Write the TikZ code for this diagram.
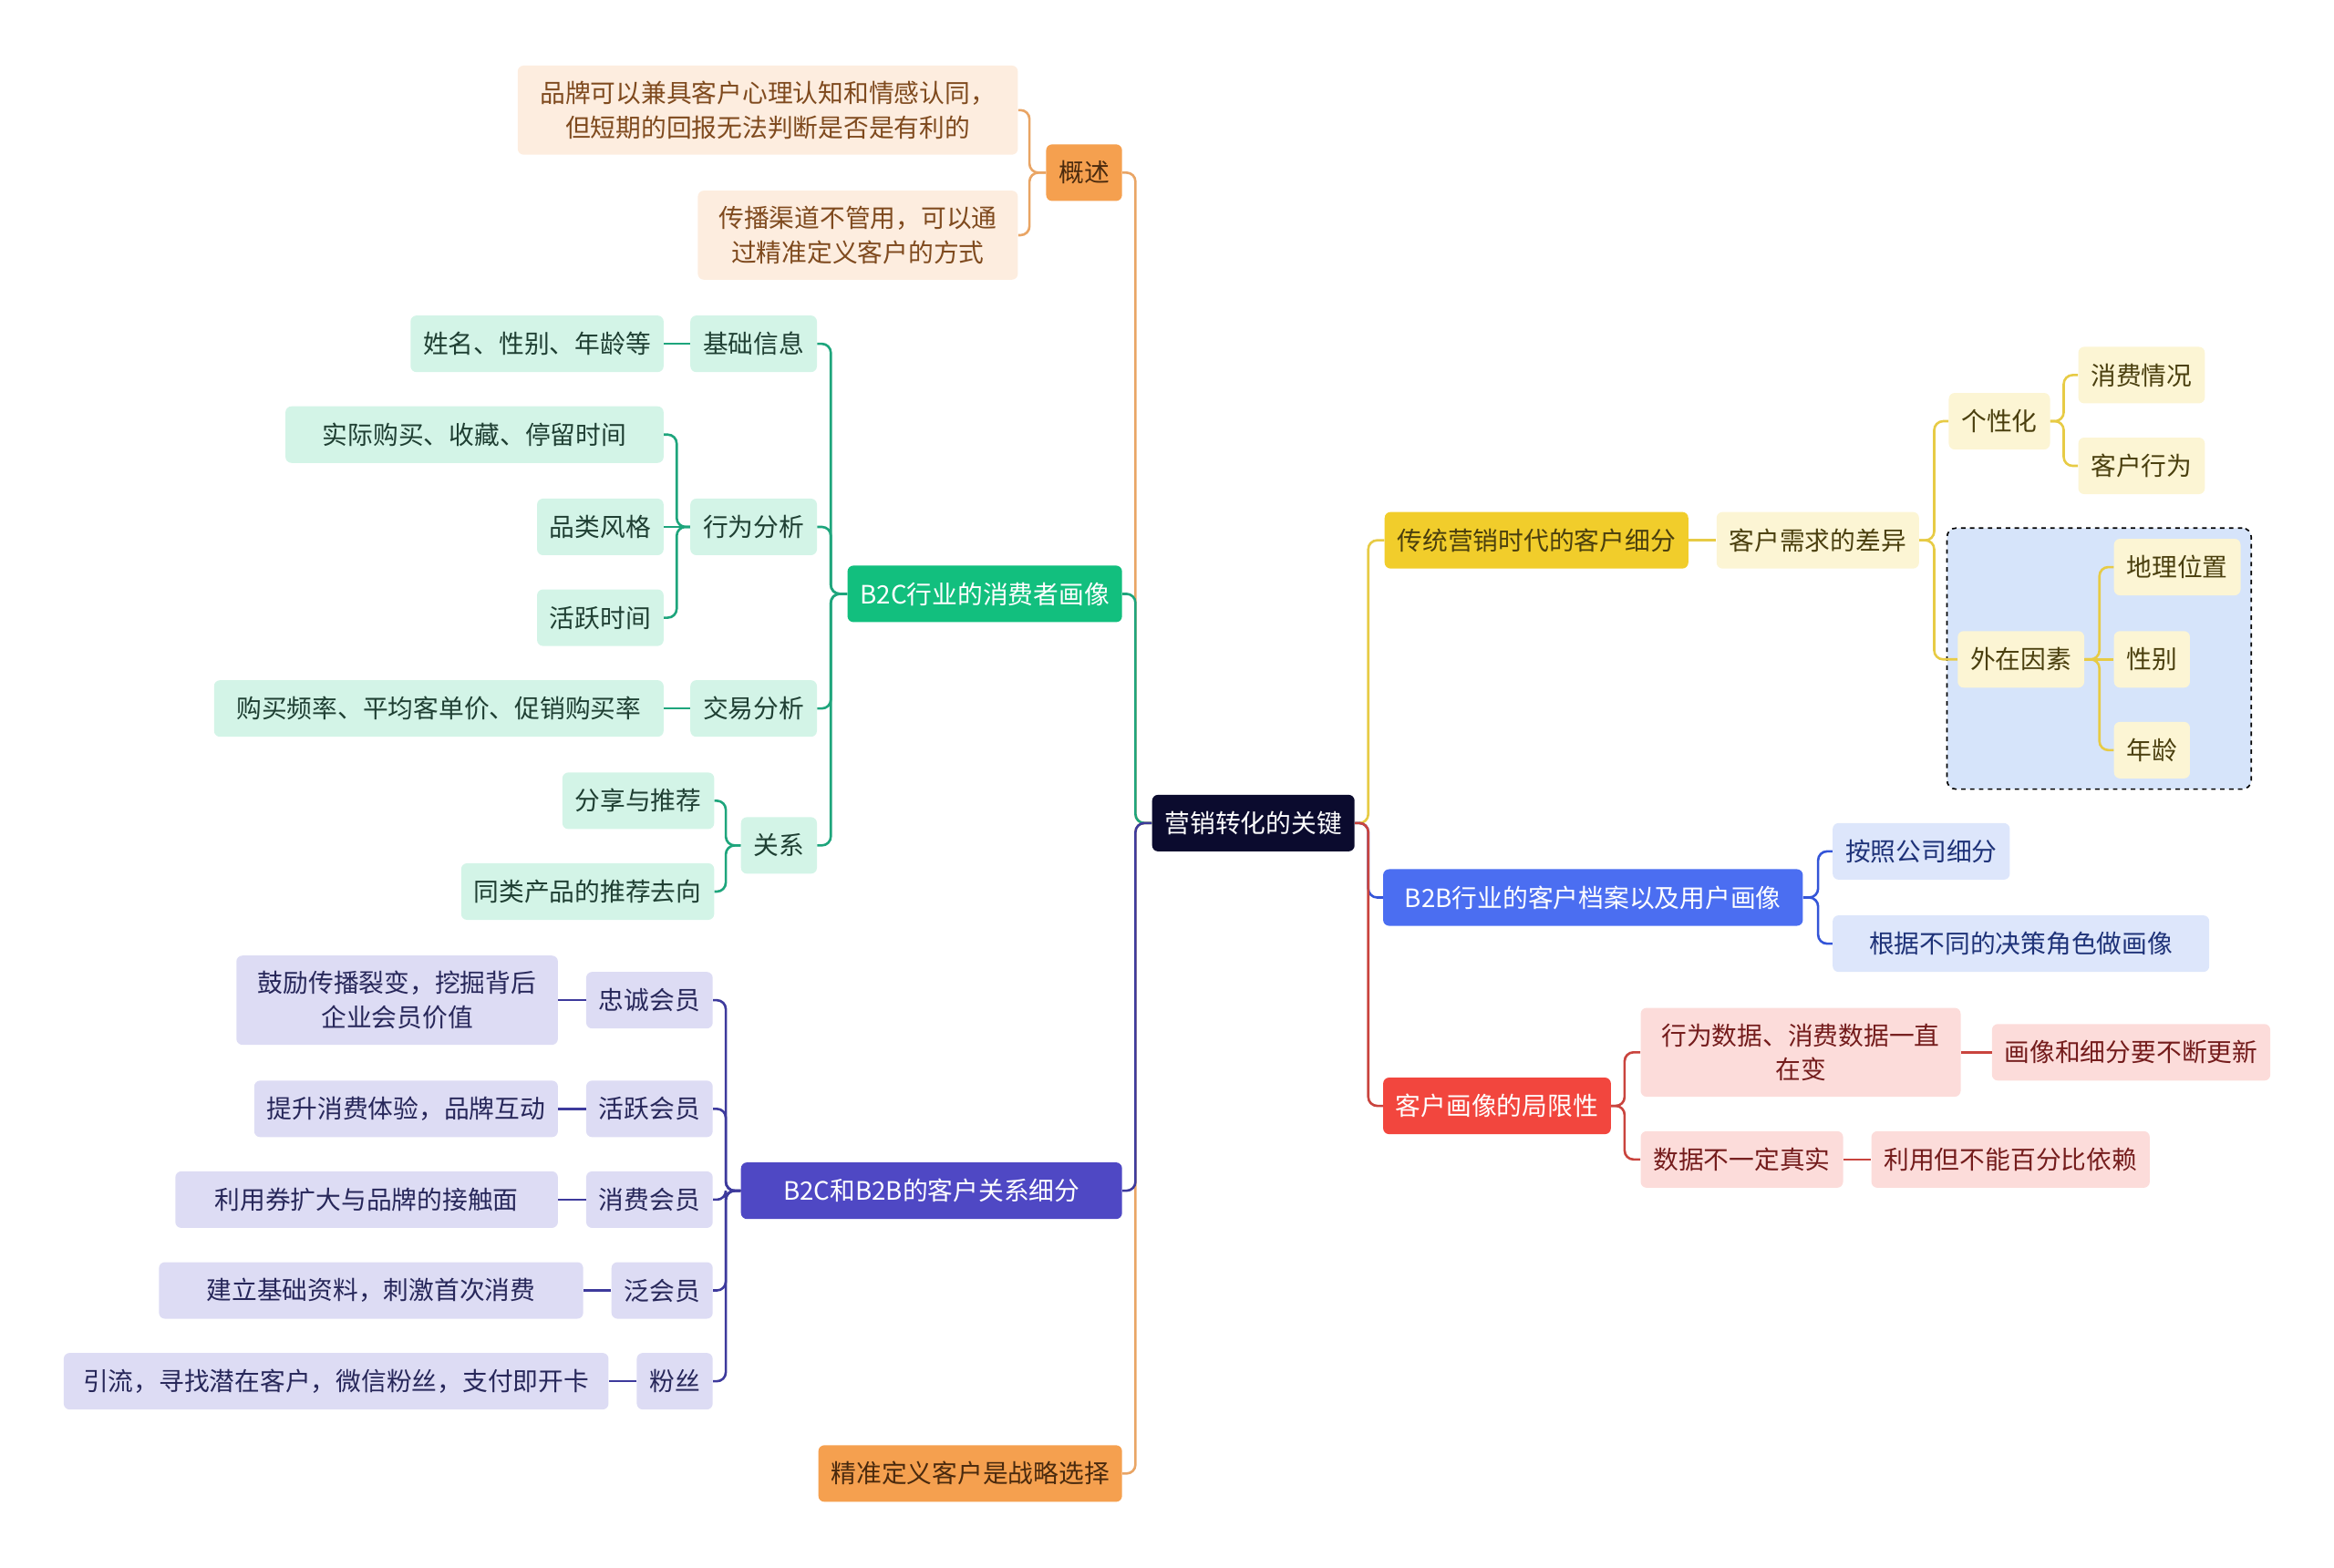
\documentclass[tikz,border=0pt]{standalone}
\usepackage{fontspec}
\newfontfamily\cjk{Noto Sans CJK SC}
\usepackage{tikz}
\usetikzlibrary{fit, backgrounds}

\definecolor{rootfill}{HTML}{0B0B2E}
\definecolor{orgfill}{HTML}{F5A04F}
\definecolor{orglight}{HTML}{FDEDDF}
\definecolor{orgline}{HTML}{E9A565}
\definecolor{orgtext}{HTML}{7F4A1E}
\definecolor{orgdark}{HTML}{4A2A0E}
\definecolor{grnfill}{HTML}{12BF7E}
\definecolor{grnlight}{HTML}{D3F4E7}
\definecolor{grnline}{HTML}{1EA57C}
\definecolor{grntext}{HTML}{1F3F33}
\definecolor{purfill}{HTML}{4F48C4}
\definecolor{purlight}{HTML}{DDDCF4}
\definecolor{purline}{HTML}{3D3A9C}
\definecolor{purtext}{HTML}{27275A}
\definecolor{yelfill}{HTML}{F1CD2B}
\definecolor{yellight}{HTML}{FCF5D4}
\definecolor{yelline}{HTML}{E7CB45}
\definecolor{yeltext}{HTML}{4A3F0E}
\definecolor{blufill}{HTML}{4B6EF1}
\definecolor{blulight}{HTML}{DDE6FB}
\definecolor{bluline}{HTML}{3455D8}
\definecolor{blutext}{HTML}{1E3278}
\definecolor{redfill}{HTML}{F2463E}
\definecolor{redlight}{HTML}{FCDCDA}
\definecolor{redline}{HTML}{C9443E}
\definecolor{redtext}{HTML}{741C1C}
\definecolor{extfill}{HTML}{D6E4FA}

\begin{document}
\begin{tikzpicture}[
  x=1pt, y=-1pt,
  box/.style={rectangle, rounded corners=4pt, inner xsep=8.5pt, inner ysep=10.5pt,
    minimum height=38pt, align=center, font=\cjk\fontsize{17}{23}\selectfont},
  root/.style={box, fill=rootfill, text=white},
  mainorg/.style={box, fill=orgfill, text=orgdark},
  leaforg/.style={box, fill=orglight, text=orgtext},
  maingrn/.style={box, fill=grnfill, text=white},
  leafgrn/.style={box, fill=grnlight, text=grntext},
  mainpur/.style={box, fill=purfill, text=white},
  leafpur/.style={box, fill=purlight, text=purtext},
  mainyel/.style={box, fill=yelfill, text=yeltext},
  leafyel/.style={box, fill=yellight, text=yeltext},
  mainblu/.style={box, fill=blufill, text=white},
  leafblu/.style={box, fill=blulight, text=blutext},
  mainred/.style={box, fill=redfill, text=white},
  leafred/.style={box, fill=redlight, text=redtext},
  extbox/.style={rectangle, rounded corners=6pt, draw=black, dashed, line width=1pt,
    fill=extfill, inner sep=7pt},
  conn/.style={line width=1.6pt, rounded corners=6pt},
  lnorg/.style={conn, draw=orgline},
  lngrn/.style={conn, draw=grnline},
  lnpur/.style={conn, draw=purline},
  lnyel/.style={conn, draw=yelline},
  lnblu/.style={conn, draw=bluline},
  lnred/.style={conn, draw=redline},
]
\useasboundingbox (0,0) rectangle (1568,1053);

% Root
\node[root] (root) at (842,553) {营销转化的关键};

% 概述
\node[mainorg, anchor=east] (gaishu) at (754,116) {概述};
\node[leaforg, anchor=east, minimum width=336pt] (gs1) at (684,74) {品牌可以兼具客户心理认知和情感认同，\\但短期的回报无法判断是否是有利的};
\node[leaforg, anchor=east, minimum width=215pt] (gs2) at (684,158) {传播渠道不管用，可以通\\过精准定义客户的方式};

% B2C行业的消费者画像
\node[maingrn, anchor=east] (b2c) at (754,399) {B2C行业的消费者画像};
\node[leafgrn, anchor=east] (jichu) at (549,231) {基础信息};
\node[leafgrn, anchor=east] (jc1) at (446,231) {姓名、性别、年龄等};
\node[leafgrn, anchor=east] (xingwei) at (549,354) {行为分析};
\node[leafgrn, anchor=east, minimum width=254pt] (xw1) at (446,292) {实际购买、收藏、停留时间};
\node[leafgrn, anchor=east] (xw2) at (446,354) {品类风格};
\node[leafgrn, anchor=east] (xw3) at (446,415) {活跃时间};
\node[leafgrn, anchor=east] (jiaoyi) at (549,476) {交易分析};
\node[leafgrn, anchor=east, minimum width=302pt] (jy1) at (446,476) {购买频率、平均客单价、促销购买率};
\node[leafgrn, anchor=east] (guanxi) at (549,568) {关系};
\node[leafgrn, anchor=east] (gx1) at (480,538) {分享与推荐};
\node[leafgrn, anchor=east] (gx2) at (480,599) {同类产品的推荐去向};

% B2C和B2B的客户关系细分
\node[mainpur, anchor=east, minimum width=256pt] (crm) at (754,800) {B2C和B2B的客户关系细分};
\node[leafpur, anchor=east] (zhongcheng) at (479,672) {忠诚会员};
\node[leafpur, anchor=east, minimum width=216pt] (zc1) at (375,672) {鼓励传播裂变，挖掘背后\\企业会员价值};
\node[leafpur, anchor=east] (huoyue) at (479,745) {活跃会员};
\node[leafpur, anchor=east] (hy1) at (375,745) {提升消费体验，品牌互动};
\node[leafpur, anchor=east] (xiaofeihy) at (479,806) {消费会员};
\node[leafpur, anchor=east, minimum width=257pt] (xf1) at (375,806) {利用券扩大与品牌的接触面};
\node[leafpur, anchor=east] (fanhy) at (479,867) {泛会员};
\node[leafpur, anchor=east, minimum width=285pt] (fh1) at (392,867) {建立基础资料，刺激首次消费};
\node[leafpur, anchor=east] (fensi) at (479,928) {粉丝};
\node[leafpur, anchor=east, minimum width=366pt] (fs1) at (409,928) {引流，寻找潜在客户，微信粉丝，支付即开卡};

% 精准定义客户是战略选择
\node[mainorg, anchor=east] (jingzhun) at (754,990) {精准定义客户是战略选择};

% 传统营销时代的客户细分
\node[mainyel, anchor=west] (trad) at (930,363) {传统营销时代的客户细分};
\node[leafyel, anchor=west] (xuqiu) at (1153,363) {客户需求的差异};
\node[leafyel, anchor=west] (gexing) at (1309,283) {个性化};
\node[leafyel, anchor=west] (xfqk) at (1396,252) {消费情况};
\node[leafyel, anchor=west] (khxw) at (1396,313) {客户行为};
\node[leafyel, anchor=west] (waizai) at (1315,443) {外在因素};
\node[leafyel, anchor=west] (dili) at (1420,381) {地理位置};
\node[leafyel, anchor=west] (xingbie) at (1420,443) {性别};
\node[leafyel, anchor=west] (nianling) at (1420,504) {年龄};
\begin{scope}[on background layer]
  \node[extbox, fit=(waizai)(dili)(xingbie)(nianling)] (extframe) {};
\end{scope}

% B2B行业的客户档案以及用户画像
\node[mainblu, anchor=west, minimum width=282pt] (b2b) at (929,603) {B2B行业的客户档案以及用户画像};
\node[leafblu, anchor=west] (anzhao) at (1231,572) {按照公司细分};
\node[leafblu, anchor=west, minimum width=253pt] (genju) at (1231,634) {根据不同的决策角色做画像};

% 客户画像的局限性
\node[mainred, anchor=west] (limit) at (929,743) {客户画像的局限性};
\node[leafred, anchor=west, minimum width=215pt] (biandong) at (1102,707) {行为数据、消费数据一直\\在变};
\node[leafred, anchor=west] (gengxin) at (1338,707) {画像和细分要不断更新};
\node[leafred, anchor=west] (zhenshi) at (1102,779) {数据不一定真实};
\node[leafred, anchor=west] (yilai) at (1257,779) {利用但不能百分比依赖};

% Connectors: root to main branches
\draw[lnorg] (root.west) -- ++(-11,0) |- (gaishu.east);
\draw[lnorg] (root.west) -- ++(-11,0) |- (jingzhun.east);
\draw[lngrn] (root.west) -- ++(-11,0) |- (b2c.east);
\draw[lnpur] (root.west) -- ++(-11,0) |- (crm.east);
\draw[lnyel] (root.east) -- ++(9,0) |- (trad.west);
\draw[lnblu] (root.east) -- ++(9,0) |- (b2b.west);
\draw[lnred] (root.east) -- ++(9,0) |- (limit.west);

% 概述
\draw[lnorg] (gaishu.west) -- ++(-11,0) |- (gs1.east);
\draw[lnorg] (gaishu.west) -- ++(-11,0) |- (gs2.east);

% B2C
\draw[lngrn] (b2c.west) -- ++(-11,0) |- (jichu.east);
\draw[lngrn] (b2c.west) -- ++(-11,0) |- (xingwei.east);
\draw[lngrn] (b2c.west) -- ++(-11,0) |- (jiaoyi.east);
\draw[lngrn] (b2c.west) -- ++(-11,0) |- (guanxi.east);
\draw[lngrn] (jichu.west) -- (jc1.east);
\draw[lngrn] (xingwei.west) -- ++(-9,0) |- (xw1.east);
\draw[lngrn] (xingwei.west) -- (xw2.east);
\draw[lngrn] (xingwei.west) -- ++(-9,0) |- (xw3.east);
\draw[lngrn] (jiaoyi.west) -- (jy1.east);
\draw[lngrn] (guanxi.west) -- ++(-10,0) |- (gx1.east);
\draw[lngrn] (guanxi.west) -- ++(-10,0) |- (gx2.east);

% B2C和B2B
\foreach \m in {zhongcheng, huoyue, xiaofeihy, fanhy, fensi}
  \draw[lnpur] (crm.west) -- ++(-10,0) |- (\m.east);
\draw[lnpur] (zhongcheng.west) -- (zc1.east);
\draw[lnpur] (huoyue.west) -- (hy1.east);
\draw[lnpur] (xiaofeihy.west) -- (xf1.east);
\draw[lnpur] (fanhy.west) -- (fh1.east);
\draw[lnpur] (fensi.west) -- (fs1.east);

% 传统营销
\draw[lnyel] (trad.east) -- (xuqiu.west);
\draw[lnyel] (xuqiu.east) -- ++(10,0) |- (gexing.west);
\draw[lnyel] (xuqiu.east) -- ++(10,0) |- (waizai.west);
\draw[lnyel] (gexing.east) -- ++(9,0) |- (xfqk.west);
\draw[lnyel] (gexing.east) -- ++(9,0) |- (khxw.west);
\draw[lnyel] (waizai.east) -- ++(10,0) |- (dili.west);
\draw[lnyel] (waizai.east) -- (xingbie.west);
\draw[lnyel] (waizai.east) -- ++(10,0) |- (nianling.west);

% B2B
\draw[lnblu] (b2b.east) -- ++(10,0) |- (anzhao.west);
\draw[lnblu] (b2b.east) -- ++(10,0) |- (genju.west);

% 局限性
\draw[lnred] (limit.east) -- ++(9,0) |- (biandong.west);
\draw[lnred] (limit.east) -- ++(9,0) |- (zhenshi.west);
\draw[lnred] (biandong.east) -- (gengxin.west);
\draw[lnred] (zhenshi.east) -- (yilai.west);

\end{tikzpicture}
\end{document}
